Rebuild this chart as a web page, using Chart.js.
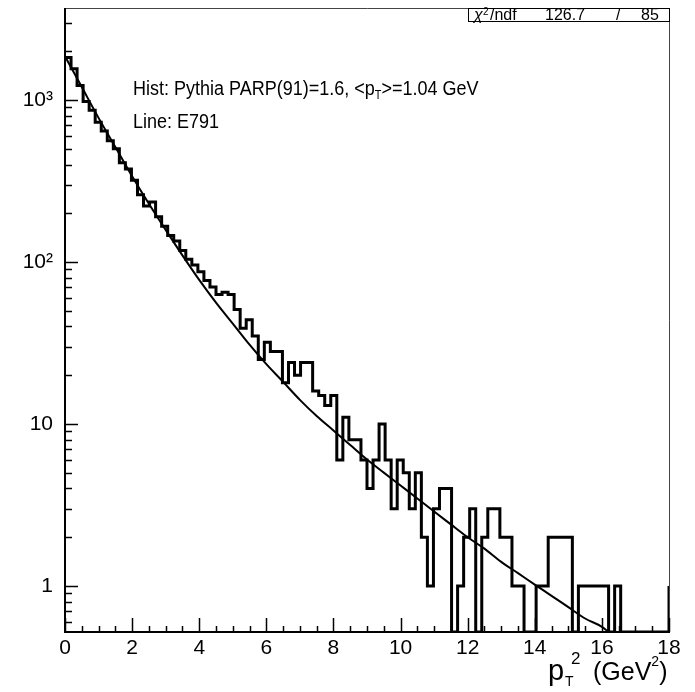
<!DOCTYPE html>
<html>
<head>
<meta charset="utf-8">
<script src="https://cdn.jsdelivr.net/npm/chart.js@4.4.1/dist/chart.umd.min.js"></script>
<style>
html, body { margin: 0; padding: 0; background: #fff; }
#wrap { width: 695px; height: 692px; }
</style>
</head>
<body>
<div id="wrap"><canvas id="c" width="695" height="692"></canvas></div>
<script>
// pT^2 histogram: 100 bins of 0.18 GeV^2 from 0 to 18 (Pythia)
const binWidth = 0.18;
const binCounts = [
  1830, 1560, 1230, 980, 865, 730, 645, 560, 500, 410,
  375, 320, 260, 222, 235, 190, 166, 146, 135, 118,
  104, 96, 87, 77, 70, 63, 65, 63, 51, 39,
  44, 35, 25, 32, 28, 28, 18, 24, 20, 24,
  24, 16, 15, 13, 15, 6, 11, 8, 8, 6,
  4, 6, 10, 6, 3, 6, 5, 3, 5, 2,
  1, 3, 4, 4, 0, 1, 2, 3, 0, 2,
  3, 3, 2, 2, 1, 1, 0, 0, 1, 1,
  2, 2, 2, 2, 0, 1, 1, 1, 1, 1,
  0, 1, 0, 0, 0, 0, 0, 0, 0, 0
];
const lastEdgeCount = 1;

// E791 line
const fitX = [0, 0.5, 1, 1.5, 2, 2.5, 3, 3.5, 4, 4.5, 5, 5.5, 6, 6.5, 7, 7.5, 8, 8.5,
  9, 9.5, 10, 10.5, 11, 11.5, 12, 12.5, 13, 13.5, 14, 14.5, 15, 15.5, 16, 16.2];
const fitY = [1862, 1202, 776, 513, 339, 229, 158, 110, 77.6, 56.2, 41.7, 30.9, 23.4, 18.2,
  14.1, 11.2, 9.12, 7.41, 6.03, 5.01, 4.17, 3.47, 2.88, 2.40, 2.00, 1.70, 1.41, 1.20,
  1.02, 0.87, 0.74, 0.63, 0.56, 0.52];

const yMin = 0.52, yMax = 3700;
const xTickValues = [0, 2, 4, 6, 8, 10, 12, 14, 16, 18];
const yTickValues = [1, 10, 100, 1000];
const yTickLabels = ['1', '10', '10²', '10³'];

const chi2Text = ['126.7', '/', '85'];
const histLabel = 'Hist: Pythia PARP(91)=1.6, <p';
const histLabelEnd = '>=1.04 GeV';
const lineLabel = 'Line: E791';

const FONT = '"Liberation Sans", Arial, sans-serif';

// empty bins sit on the bottom of the frame (log axis cannot show 0)
const histPoints = binCounts.map((c, i) => ({ x: i * binWidth, y: c > 0 ? c : yMin }));
histPoints.push({ x: binCounts.length * binWidth, y: lastEdgeCount });
const fitPoints = fitX.map((x, i) => ({ x: x, y: fitY[i] }));

function squeezedText(ctx, text, x, y, sx) {
  ctx.save();
  ctx.translate(x, y);
  ctx.scale(sx, 1);
  ctx.fillText(text, 0, 0);
  ctx.restore();
  return ctx.measureText(text).width * sx;
}

// frame, inward ticks and the texts
const rootStyle = {
  id: 'rootStyle',
  afterDraw(chart) {
    const ctx = chart.ctx;
    const a = chart.chartArea;
    const xs = chart.scales.x, ys = chart.scales.y;
    ctx.save();

    // thin top / right frame
    ctx.lineWidth = 1;
    ctx.strokeStyle = '#444';
    ctx.beginPath();
    ctx.moveTo(a.left, a.top + 0.5);
    ctx.lineTo(a.right + 0.5, a.top + 0.5);
    ctx.lineTo(a.right + 0.5, a.bottom);
    ctx.stroke();

    // thick axes
    ctx.strokeStyle = '#000';
    ctx.lineWidth = 2;
    ctx.beginPath();
    ctx.moveTo(a.left, a.top);
    ctx.lineTo(a.left, a.bottom);
    ctx.lineTo(a.right + 1, a.bottom);
    ctx.stroke();

    // x ticks
    ctx.lineWidth = 1.5;
    ctx.beginPath();
    for (let v = 0; v <= 18.001; v += 0.5) {
      const px = Math.round(xs.getPixelForValue(v)) + 0.5;
      const len = Math.abs(v % 2) < 0.01 ? 14 : 6;
      ctx.moveTo(px, a.bottom);
      ctx.lineTo(px, a.bottom - len);
    }
    ctx.stroke();

    // y ticks (log)
    ctx.beginPath();
    for (let d = -1; d <= 3; d++) {
      for (let m = 1; m <= 9; m++) {
        const v = m * Math.pow(10, d);
        if (v < ys.min || v > ys.max) continue;
        const py = Math.round(ys.getPixelForValue(v)) + 0.5;
        const len = m === 1 ? 13 : 7;
        ctx.moveTo(a.left, py);
        ctx.lineTo(a.left + len, py);
      }
    }
    ctx.stroke();

    ctx.fillStyle = '#000';
    ctx.textBaseline = 'alphabetic';

    // labels in the plot
    const sx = 0.9;
    ctx.font = '20px ' + FONT;
    let x = 133;
    x += squeezedText(ctx, histLabel, x, 95, sx);
    ctx.font = '12px ' + FONT;
    x += squeezedText(ctx, 'T', x, 99, sx);
    ctx.font = '20px ' + FONT;
    squeezedText(ctx, histLabelEnd, x, 95, sx);
    squeezedText(ctx, lineLabel, 133, 128, sx);

    // chi2 box
    ctx.lineWidth = 1;
    ctx.strokeRect(468.5, a.top + 0.5, a.right - 468, 13);
    ctx.font = 'italic 16px ' + FONT;
    ctx.fillText('χ', 474, a.top + 12);
    ctx.font = '10px ' + FONT;
    ctx.fillText('2', 483, a.top + 7);
    ctx.font = '16px ' + FONT;
    ctx.fillText('/ndf', 490, a.top + 12);
    ctx.fillText(chi2Text[0], 545, a.top + 12);
    ctx.fillText(chi2Text[1], 616, a.top + 12);
    ctx.fillText(chi2Text[2], 641, a.top + 12);

    // x axis title
    ctx.font = '29px ' + FONT;
    ctx.fillText('p', 548, 680);
    ctx.font = '14px ' + FONT;
    ctx.fillText('T', 565, 686);
    ctx.font = '17px ' + FONT;
    ctx.fillText('2', 571, 664);
    ctx.font = '25px ' + FONT;
    let gx = 593;
    ctx.fillText('(GeV', gx, 680);
    gx += ctx.measureText('(GeV').width;
    ctx.font = '14px ' + FONT;
    ctx.fillText('2', gx, 666);
    gx += ctx.measureText('2').width;
    ctx.font = '25px ' + FONT;
    ctx.fillText(')', gx, 680);

    ctx.restore();
  }
};

new Chart(document.getElementById('c'), {
  type: 'line',
  data: {
    datasets: [
      {
        label: 'Pythia',
        data: histPoints,
        stepped: 'before',
        borderColor: '#000',
        borderWidth: 3,
        pointRadius: 0,
        fill: false
      },
      {
        label: 'E791',
        data: fitPoints,
        borderColor: '#000',
        borderWidth: 2,
        pointRadius: 0,
        cubicInterpolationMode: 'monotone',
        fill: false
      }
    ]
  },
  options: {
    responsive: false,
    animation: false,
    layout: { padding: { top: 8, right: 26, left: 0, bottom: 0 } },
    plugins: { legend: { display: false }, tooltip: { enabled: false } },
    scales: {
      x: {
        type: 'linear',
        min: 0,
        max: 18,
        afterBuildTicks: (s) => { s.ticks = xTickValues.map(v => ({ value: v })); },
        ticks: { color: '#000', font: { family: FONT, size: 21 }, padding: 4, maxRotation: 0 },
        grid: { display: false, drawTicks: false },
        border: { display: false },
        afterFit: (s) => { s.height = 60; s.paddingLeft = 0; s.paddingRight = 0; }
      },
      y: {
        type: 'logarithmic',
        min: yMin,
        max: yMax,
        afterBuildTicks: (s) => { s.ticks = yTickValues.map(v => ({ value: v })); },
        ticks: {
          color: '#000',
          font: { family: FONT, size: 21 },
          padding: 12,
          callback: (v, i) => yTickLabels[i]
        },
        grid: { display: false, drawTicks: false },
        border: { display: false },
        afterFit: (s) => { s.width = 65; s.paddingTop = 0; s.paddingBottom = 0; }
      }
    }
  },
  plugins: [rootStyle]
});
</script>
</body>
</html>
